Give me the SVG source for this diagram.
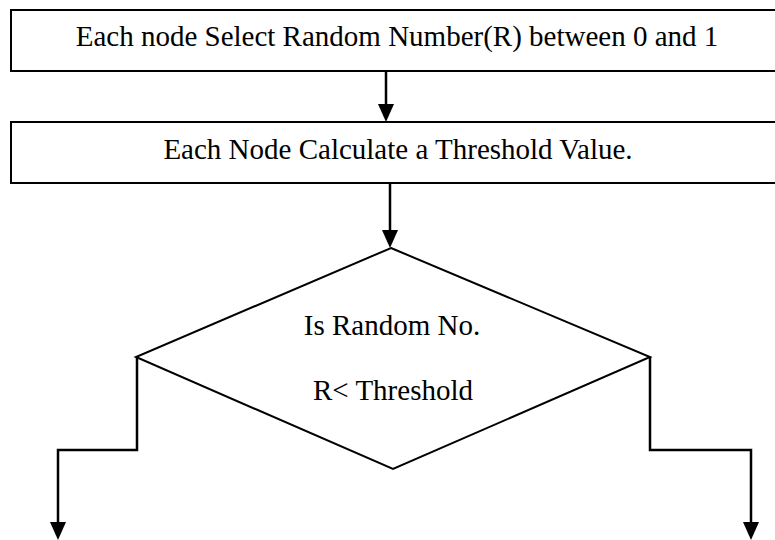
<svg xmlns="http://www.w3.org/2000/svg" width="775" height="540" viewBox="0 0 775 540">
<style>
.box{fill:#fff;stroke:#000;stroke-width:2}
.lbl{font-family:"Liberation Serif","Times New Roman",serif;font-size:29px;fill:#000;text-anchor:middle}
.conn{fill:none;stroke:#000;stroke-width:2.5}
</style>
<defs>
<marker id="ah" markerUnits="userSpaceOnUse" markerWidth="16" markerHeight="18" viewBox="0 0 16 18" refX="8" refY="18" orient="auto-start-reverse">
<path d="M0,0 L16,0 L8,18 Z" fill="#000"/>
</marker>
</defs>
<rect width="775" height="540" fill="#fff"/>
<g id="node-select">
<path class="box" d="M780,10 H11 V71 H780"/>
<text class="lbl" x="397" y="46">Each node Select Random Number(R) between 0 and 1</text>
</g>
<g id="node-threshold">
<path class="box" d="M780,122 H11 V183 H780"/>
<text class="lbl" x="398" y="159">Each Node Calculate a Threshold Value.</text>
</g>
<g id="node-decision">
<polygon class="box" points="391,248 650,357 393,469 136,357"/>
<text class="lbl" x="392" y="335">Is Random No.</text>
<text class="lbl" x="393" y="400">R&lt; Threshold</text>
</g>
<g id="connectors">
<path class="conn" d="M386,71 V106" />
<path d="M378,104 L394,104 L386,122 Z" fill="#000"/>
<path class="conn" d="M390,183 V232" />
<path d="M382,230 L398,230 L390,248 Z" fill="#000"/>
<path class="conn" d="M137,357 V450 H58 V524" />
<path d="M50,522 L66,522 L58,540 Z" fill="#000"/>
<path class="conn" d="M650,357 V450 H751 V524" />
<path d="M743,522 L759,522 L751,540 Z" fill="#000"/>
</g>
</svg>
